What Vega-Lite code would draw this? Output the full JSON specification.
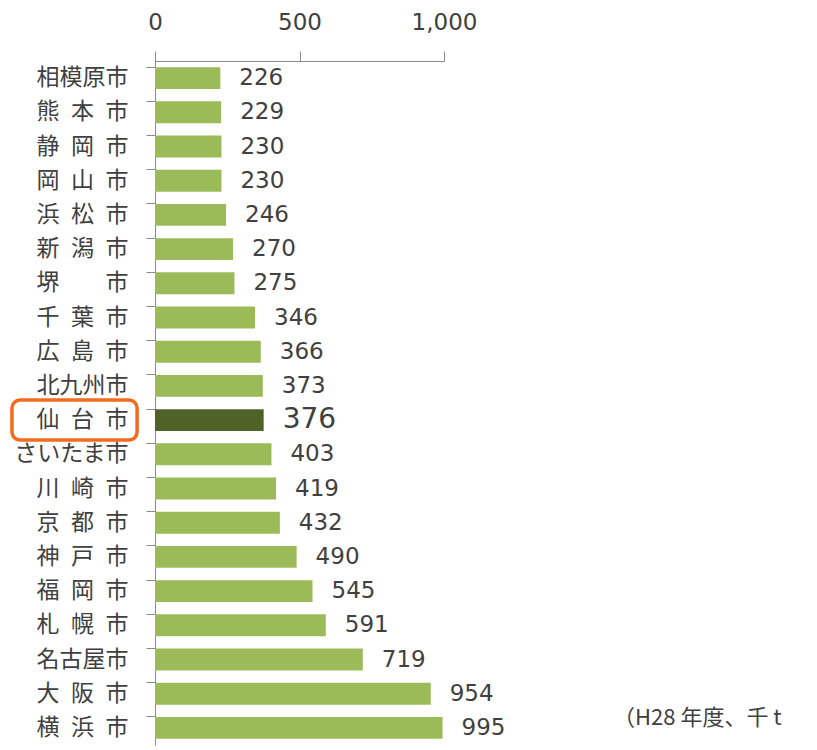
{
  "$schema": "https://vega.github.io/schema/vega-lite/v6.json",
  "autosize": {"type": "none"},
  "padding": {"left": 155, "top": 61, "right": 373, "bottom": 5},
  "width": 289,
  "height": 684,
  "background": "white",
  "config": {
    "view": {"stroke": null},
    "axisX": {
      "labelFont": "DejaVu Sans",
      "labelFontSize": 23,
      "labelColor": "#404040",
      "labelPadding": 17,
      "labelFlush": false,
      "tickSize": 10,
      "tickColor": "#8a8a8a",
      "domainColor": "#8a8a8a",
      "grid": false
    }
  },
  "data": {
    "values": [
      {"city": "相模原市", "value": 226, "hl": "no"},
      {"city": "熊\u2002本\u2002市", "value": 229, "hl": "no"},
      {"city": "静\u2002岡\u2002市", "value": 230, "hl": "no"},
      {"city": "岡\u2002山\u2002市", "value": 230, "hl": "no"},
      {"city": "浜\u2002松\u2002市", "value": 246, "hl": "no"},
      {"city": "新\u2002潟\u2002市", "value": 270, "hl": "no"},
      {"city": "堺\u2002\u3000\u2002市", "value": 275, "hl": "no"},
      {"city": "千\u2002葉\u2002市", "value": 346, "hl": "no"},
      {"city": "広\u2002島\u2002市", "value": 366, "hl": "no"},
      {"city": "北九州市", "value": 373, "hl": "no"},
      {"city": "仙\u2002台\u2002市", "value": 376, "hl": "yes"},
      {"city": "さいたま市", "value": 403, "hl": "no"},
      {"city": "川\u2002崎\u2002市", "value": 419, "hl": "no"},
      {"city": "京\u2002都\u2002市", "value": 432, "hl": "no"},
      {"city": "神\u2002戸\u2002市", "value": 490, "hl": "no"},
      {"city": "福\u2002岡\u2002市", "value": 545, "hl": "no"},
      {"city": "札\u2002幌\u2002市", "value": 591, "hl": "no"},
      {"city": "名古屋市", "value": 719, "hl": "no"},
      {"city": "大\u2002阪\u2002市", "value": 954, "hl": "no"},
      {"city": "横\u2002浜\u2002市", "value": 995, "hl": "no"}
    ]
  },
  "encoding": {
    "y": {
      "field": "city",
      "type": "nominal",
      "title": null,
      "scale": {
        "domain": ["相模原市", "熊\u2002本\u2002市", "静\u2002岡\u2002市", "岡\u2002山\u2002市", "浜\u2002松\u2002市", "新\u2002潟\u2002市", "堺\u2002\u3000\u2002市", "千\u2002葉\u2002市", "広\u2002島\u2002市", "北九州市", "仙\u2002台\u2002市", "さいたま市", "川\u2002崎\u2002市", "京\u2002都\u2002市", "神\u2002戸\u2002市", "福\u2002岡\u2002市", "札\u2002幌\u2002市", "名古屋市", "大\u2002阪\u2002市", "横\u2002浜\u2002市"],
        "paddingInner": 0.36,
        "paddingOuter": 0.18
      },
      "axis": {
        "orient": "left",
        "bandPosition": 0,
        "tickSize": 9,
        "tickColor": "#8a8a8a",
        "domainColor": "#8a8a8a",
        "labelPadding": 18,
        "labelFont": "Noto Sans CJK JP",
        "labelFontSize": 23,
        "labelColor": "#404040",
        "grid": false
      }
    }
  },
  "layer": [
    {
      "mark": {"type": "bar"},
      "encoding": {
        "x": {
          "field": "value",
          "type": "quantitative",
          "title": null,
          "scale": {"domain": [0, 1000]},
          "axis": {"orient": "top", "values": [0, 500, 1000], "format": ",d", "title": null}
        },
        "color": {
          "field": "hl",
          "type": "nominal",
          "scale": {"domain": ["no", "yes"], "range": ["#9BBB59", "#4F6228"]},
          "legend": null
        }
      }
    },
    {
      "mark": {"type": "text", "align": "left", "baseline": "middle", "dx": 19, "font": "DejaVu Sans", "color": "#404040"},
      "encoding": {
        "x": {"field": "value", "type": "quantitative", "title": null, "scale": {"domain": [0, 1000]}, "axis": {"orient": "top", "values": [0, 500, 1000], "format": ",d", "title": null}},
        "text": {"field": "value", "type": "quantitative"},
        "size": {
          "field": "hl",
          "type": "nominal",
          "scale": {"domain": ["no", "yes"], "range": [23, 28]},
          "legend": null
        }
      }
    },
    {
      "transform": [{"filter": "datum.hl === 'yes'"}],
      "mark": {"type": "bar", "height": 40, "fill": null, "fillOpacity": 0, "stroke": "#F26B1F", "strokeWidth": 3.5, "cornerRadius": 8},
      "encoding": {
        "x": {"datum": -495, "type": "quantitative", "title": null, "scale": {"domain": [0, 1000]}, "axis": {"orient": "top", "values": [0, 500, 1000], "format": ",d", "title": null}},
        "x2": {"datum": -62}
      }
    },
    {
      "data": {"values": [{"note": "（H28 年度、千 t"}]},
      "mark": {"type": "text", "align": "left", "baseline": "middle", "dy": -10, "font": "Noto Sans CJK JP", "fontSize": 22, "color": "#404040"},
      "encoding": {
        "x": {"datum": 1585, "type": "quantitative", "title": null, "scale": {"domain": [0, 1000]}, "axis": {"orient": "top", "values": [0, 500, 1000], "format": ",d", "title": null}},
        "y": {"datum": "横\u2002浜\u2002市", "type": "nominal"},
        "text": {"field": "note", "type": "nominal"}
      }
    }
  ]
}
